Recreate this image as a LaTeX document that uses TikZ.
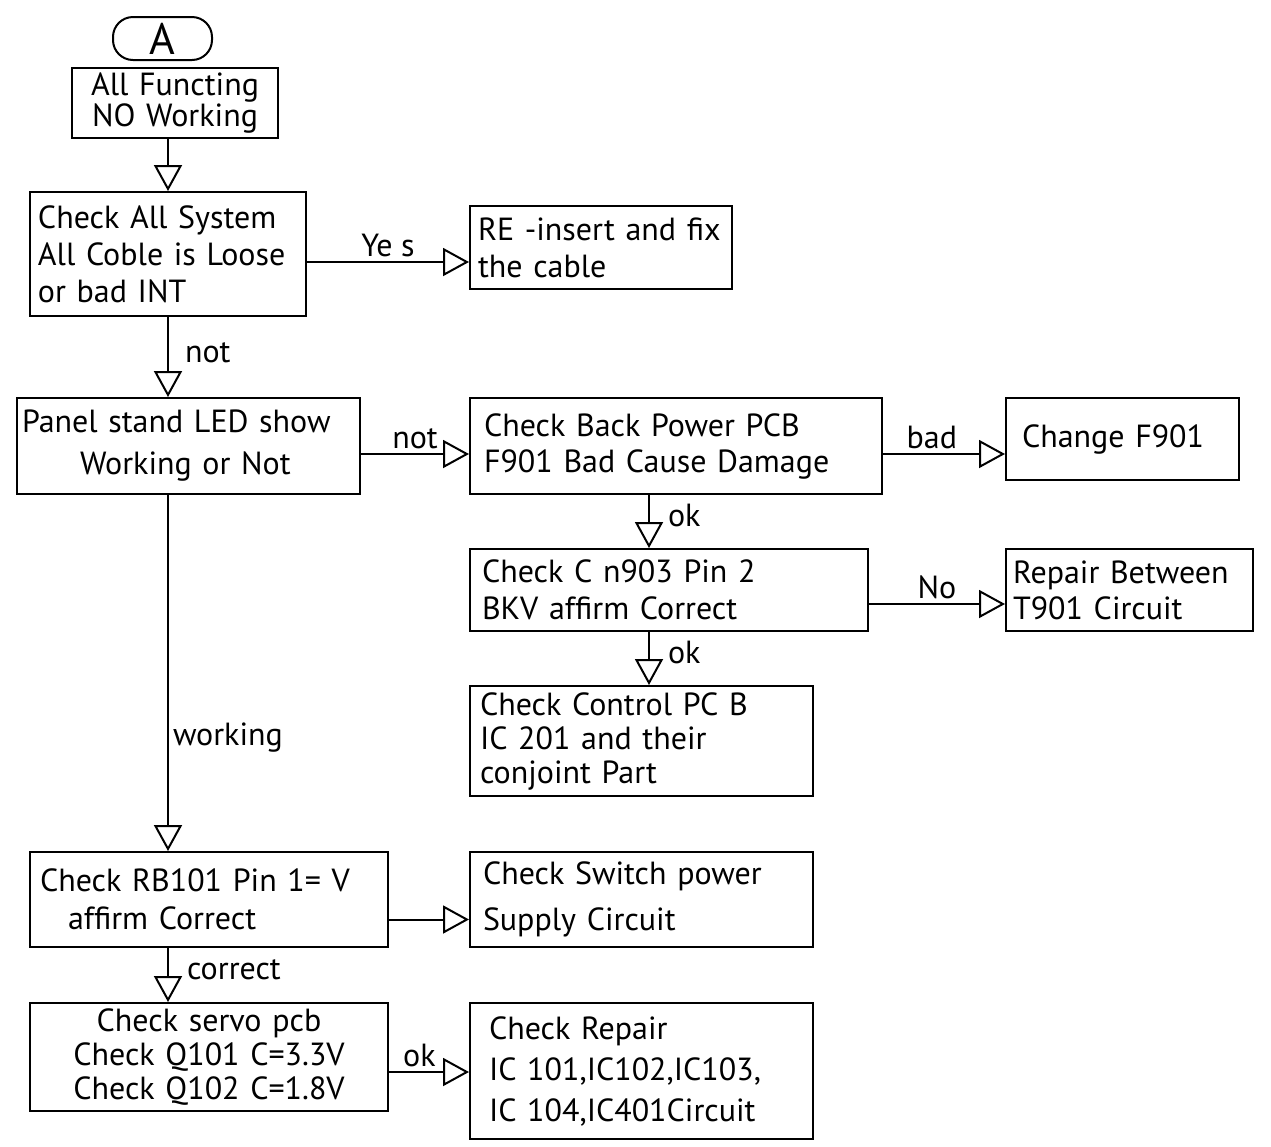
\documentclass[tikz,border=0pt]{standalone}
\usepackage{fontspec}
\setmainfont{PT Sans}
\usepackage{tikz}
\usetikzlibrary{arrows.meta,calc,positioning}

\begin{document}
\begin{tikzpicture}[x=0.5pt,y=-0.5pt,
      box/.style={draw,line width=1pt,align=left,inner xsep=4pt,inner ysep=2pt,
        font=\fontsize{16}{18.5}\selectfont},
      flow/.style={line width=1pt,-{Triangle[open,length=13pt,width=14pt,line width=1pt]}},
      lbl/.style={font=\fontsize{16}{18}\selectfont,inner sep=2pt}]
      \useasboundingbox (0,0) rectangle (1271,1147);
      \node[draw,line width=1pt,rounded corners=10pt,minimum width=49.5pt,minimum height=21.5pt,
        inner sep=0pt,font=\fontsize{22}{22}\selectfont] (start) at (162.5,38.5) {A};
      \node[box,align=center,text width=95pt,minimum height=34pt,
        font=\fontsize{16}{13.5}\selectfont] (nowork) at (175,103) {All Functing\\NO Working};
      \node[box,text width=130pt,minimum height=62pt] (syscheck) at (168,254)
        {Check All System\\All Coble is Loose\\or bad INT};
      \node[box,text width=123pt,minimum height=41.5pt] (reinsert) at (601,247.5)
        {RE -insert and fix\\the cable};
      \node[box,inner xsep=2.5pt,text width=166.5pt,minimum height=48pt,
        font=\fontsize{16}{21}\selectfont] (panel) at (188.5,446)
        {Panel stand LED show\\\hspace*{29pt}Working or Not};
      \node[box,inner xsep=7pt,text width=192pt,minimum height=48pt,
        font=\fontsize{16}{18}\selectfont] (backpower) at (676,446)
        {Check Back Power PCB\\F901 Bad Cause Damage};
      \node[box,inner xsep=8pt,text width=100.5pt,minimum height=41pt] (changef) at (1122.5,439)
        {Change F901\\[6pt]};
      \node[box,inner xsep=6pt,text width=187pt,minimum height=41pt] (cncheck) at (669,590)
        {Check C n903 Pin 2\\BKV affirm Correct};
      \node[box,inner xsep=3.5pt,text width=116.5pt,minimum height=41pt,
        font=\fontsize{16}{18}\selectfont] (repairt) at (1129.5,590)
        {Repair Between\\T901 Circuit};
      \node[box,inner xsep=5pt,text width=161.5pt,minimum height=55pt,
        font=\fontsize{16}{17}\selectfont] (control) at (641.5,741)
        {Check Control PC B\\IC 201 and their\\conjoint Part};
      \node[box,inner xsep=5pt,text width=169pt,minimum height=47.5pt,
        font=\fontsize{16}{19}\selectfont] (rbcheck) at (209,899.5)
        {Check RB101 Pin 1= V\\\hspace*{14pt}affirm Correct};
      \node[box,inner xsep=6.5pt,text width=158.5pt,minimum height=47.5pt,
        font=\fontsize{16}{23}\selectfont] (switchps) at (641.5,899.5)
        {Check Switch power\\Supply Circuit};
      \node[box,align=center,text width=171pt,minimum height=54pt,
        font=\fontsize{16}{17}\selectfont] (servo) at (209,1057)
        {Check servo pcb\\Check Q101 C=3.3V\\Check Q102 C=1.8V};
      \node[box,inner xsep=9.5pt,text width=152.5pt,minimum height=68pt,
        font=\fontsize{16}{20.5}\selectfont] (icrepair) at (641.5,1071)
        {Check Repair\\IC 101,IC102,IC103,\\IC 104,IC401Circuit};

      \draw[flow] (nowork.south -| syscheck.north) -- (syscheck.north);
      \draw[flow] ([yshift=-4pt]syscheck.east) -- ([yshift=-4pt]syscheck.east -| reinsert.west)
        node[lbl,midway,above] {Ye s};
      \draw[flow] (syscheck.south) -- (panel.north -| syscheck.south)
        node[lbl,pos=0.45,right,xshift=6pt] {not};
      \draw[flow] ([yshift=-4pt]panel.east) -- ([yshift=-4pt]panel.east -| backpower.west)
        node[lbl,midway,above] {not};
      \draw[flow] ([yshift=-4pt]backpower.east) -- ([yshift=-4pt]backpower.east -| changef.west)
        node[lbl,pos=0.4,above] {bad};
      \draw[flow] ([xshift=90pt]backpower.south west) -- ([xshift=90pt]cncheck.north west)
        node[lbl,pos=0.38,right,xshift=7pt] {ok};
      \draw[flow] ([yshift=-7pt]cncheck.east) -- ([yshift=-7pt]cncheck.east -| repairt.west)
        node[lbl,midway,above] {No};
      \draw[flow] ([xshift=90pt]cncheck.south west) -- ([xshift=90pt]control.north west)
        node[lbl,pos=0.38,right,xshift=7pt] {ok};
      \draw[flow] (panel.south -| syscheck.south) -- (rbcheck.north -| syscheck.south)
        node[lbl,pos=0.68,right] {working};
      \draw[flow] ([yshift=-10pt]rbcheck.east) -- ([yshift=-10pt]rbcheck.east -| switchps.west);
      \draw[flow] (rbcheck.south -| syscheck.south) -- (servo.north -| syscheck.south)
        node[lbl,pos=0.4,right,xshift=7pt] {correct};
      \draw[flow] ([yshift=-7.5pt]servo.east) -- ([yshift=-7.5pt]servo.east -| icrepair.west)
        node[lbl,pos=0.38,above] {ok};
    \end{tikzpicture}
\end{document}
